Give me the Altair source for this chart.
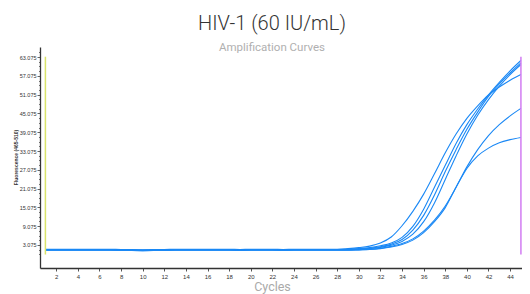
import altair as alt
import pandas as pd

cycles = list(range(1, 46))

base_A = [1.7, 1.7, 1.7, 1.7, 1.7, 1.7, 1.7, 1.6, 1.6, 1.5, 1.6, 1.6, 1.7, 1.7,
          1.7, 1.7, 1.7, 1.7, 1.6, 1.7, 1.7, 1.7, 1.6, 1.7, 1.7, 1.7, 1.7]
base_B = [1.6, 1.6, 1.6, 1.6, 1.6, 1.6, 1.6, 1.5, 1.5, 1.4, 1.5, 1.5, 1.6, 1.6,
          1.6, 1.6, 1.6, 1.6, 1.5, 1.6, 1.6, 1.6, 1.5, 1.6, 1.6, 1.6, 1.6]
base_C = [1.55, 1.55, 1.55, 1.55, 1.55, 1.55, 1.55, 1.45, 1.45, 1.35, 1.45, 1.45, 1.55, 1.55,
          1.55, 1.55, 1.55, 1.55, 1.45, 1.55, 1.55, 1.55, 1.45, 1.55, 1.55, 1.55, 1.55]
base_D = [1.5, 1.5, 1.5, 1.5, 1.5, 1.5, 1.5, 1.4, 1.4, 1.3, 1.4, 1.4, 1.5, 1.5,
          1.5, 1.5, 1.5, 1.5, 1.4, 1.5, 1.5, 1.5, 1.4, 1.5, 1.5, 1.5, 1.5]
base_E = [1.45, 1.45, 1.45, 1.45, 1.45, 1.45, 1.45, 1.35, 1.35, 1.25, 1.35, 1.35, 1.45, 1.45,
          1.45, 1.45, 1.45, 1.45, 1.35, 1.45, 1.45, 1.45, 1.35, 1.45, 1.45, 1.45, 1.45]
base_F = [1.4, 1.4, 1.4, 1.4, 1.4, 1.4, 1.4, 1.3, 1.3, 1.2, 1.3, 1.3, 1.4, 1.4,
          1.4, 1.4, 1.4, 1.4, 1.3, 1.4, 1.4, 1.4, 1.3, 1.4, 1.4, 1.4, 1.4]

well_A = base_A + [1.7, 1.9, 2.2, 2.7, 3.7, 5.6, 9.2, 13.8, 19.3, 25.8, 32.5, 38.5,
                   43.5, 47.5, 51.0, 53.5, 55.7, 57.5]
well_B = base_B + [1.6, 1.7, 1.9, 2.2, 2.8, 3.7, 5.5, 9.0, 14.5, 21.5, 28.5, 35.5,
                   41.5, 46.5, 51.0, 55.0, 58.7, 62.0]
well_C = base_C + [1.55, 1.6, 1.7, 2.0, 2.5, 3.3, 4.8, 7.8, 12.5, 19.0, 26.5, 33.5,
                   40.0, 45.5, 50.5, 54.5, 58.0, 61.2]
well_D = base_D + [1.5, 1.5, 1.6, 1.9, 2.3, 3.0, 4.2, 6.5, 10.5, 16.5, 24.0, 31.5,
                   38.5, 44.5, 49.5, 53.8, 57.5, 60.7]
well_E = base_E + [1.45, 1.5, 1.5, 1.7, 2.0, 2.6, 3.5, 5.0, 7.5, 11.0, 15.5, 21.5,
                   28.0, 33.5, 38.0, 41.5, 44.3, 46.7]
well_F = base_F + [1.4, 1.4, 1.5, 1.6, 1.9, 2.4, 3.2, 4.6, 7.0, 10.5, 15.0, 21.5,
                   27.5, 31.5, 34.0, 35.7, 36.7, 37.4]

wells = {"A": well_A, "B": well_B, "C": well_C, "D": well_D, "E": well_E, "F": well_F}

y_major = [round(3.075 + 6 * k, 3) for k in range(11)]
y_minor = [round(0.075 + 1.5 * k, 3) for k in range(44)]
x_ticks = list(range(2, 45, 2))

marker_x = [1, 45]
marker_top = [63.2, 63.2]
marker_bottom = [0.0, 0.0]
marker_name = ["start", "end"]
marker_colors = ["#d9e36a", "#d27cf2"]

rows = []
for w, vals in wells.items():
    for c, v in zip(cycles, vals):
        rows.append({"cycle": c, "value": v, "well": w})
df = pd.DataFrame(rows)

mk = pd.DataFrame({"x": marker_x, "y": marker_top, "y2": marker_bottom, "name": marker_name})
minor_df = pd.DataFrame({"v": y_minor})

xs = alt.Scale(domain=[0.5, 45.1], nice=False, zero=False)
ys = alt.Scale(domain=[-4.3, 66.3], nice=False, zero=False)

# minor ticks on the y axis only (invisible points)
minor = alt.Chart(minor_df).mark_point(opacity=0, size=1).encode(
    y=alt.Y("v:Q", scale=ys,
            axis=alt.Axis(orient="left", values=y_minor, labels=False, domain=False,
                          grid=False, tickSize=1.5, tickColor="#777", title=None)),
)

lines = alt.Chart(df).mark_line(interpolate="monotone", strokeWidth=1.1, color="#1a88f5").encode(
    x=alt.X("cycle:Q", scale=xs,
            axis=alt.Axis(orient="bottom", values=x_ticks, title="Cycles", grid=False,
                          labelFontSize=6, labelColor="#333", tickSize=3, tickColor="#555",
                          domainColor="#333", domainWidth=1.3, labelPadding=2,
                          labelOverlap=False, labelFlush=False,
                          titleFontSize=12.5, titleColor="#aaaaaa", titleFontWeight="normal",
                          titleFont="Roboto", titleX=232, titleY=12, titleBaseline="top")),
    y=alt.Y("value:Q", scale=ys,
            axis=alt.Axis(orient="left", values=y_major, format=".3f",
                          title="Fluorescence (465-510)", grid=False, labelFontSize=5.5,
                          labelColor="#333", labelOverlap=False, labelFlush=False,
                          tickSize=3, tickColor="#666", domainColor="#333", domainWidth=1.3,
                          labelPadding=1, titleFontSize=5, titleFontWeight="bold",
                          titleColor="#333", titleX=-22, titleY=110)),
    detail="well:N",
)

rules = alt.Chart(mk).mark_rule(strokeWidth=1.5).encode(
    x=alt.X("x:Q", scale=xs, axis=None),
    y=alt.Y("y:Q", scale=ys, axis=None),
    y2="y2:Q",
    color=alt.Color("name:N", scale=alt.Scale(domain=marker_name, range=marker_colors), legend=None),
)

chart = alt.layer(minor, lines, rules).resolve_axis(
    x="independent", y="independent"
).properties(
    width=482,
    height=221,
    autosize=alt.AutoSizeParams(type="none"),
    padding={"left": 32, "top": 39, "right": 0, "bottom": 30},
    title=alt.TitleParams(
        text="HIV-1 (60 IU/mL)",
        subtitle="Amplification Curves",
        anchor="middle",
        dx=-9,
        offset=-6,
        fontSize=20,
        font="Roboto",
        fontWeight=300,
        color="#333333",
        subtitleFont="Roboto",
        subtitleFontSize=11.5,
        subtitleColor="#b0b0b0",
        subtitlePadding=8,
    ),
).configure(background="white").configure_view(stroke=None)

chart.save("out.html", embed_options={"renderer": "svg", "actions": False})
